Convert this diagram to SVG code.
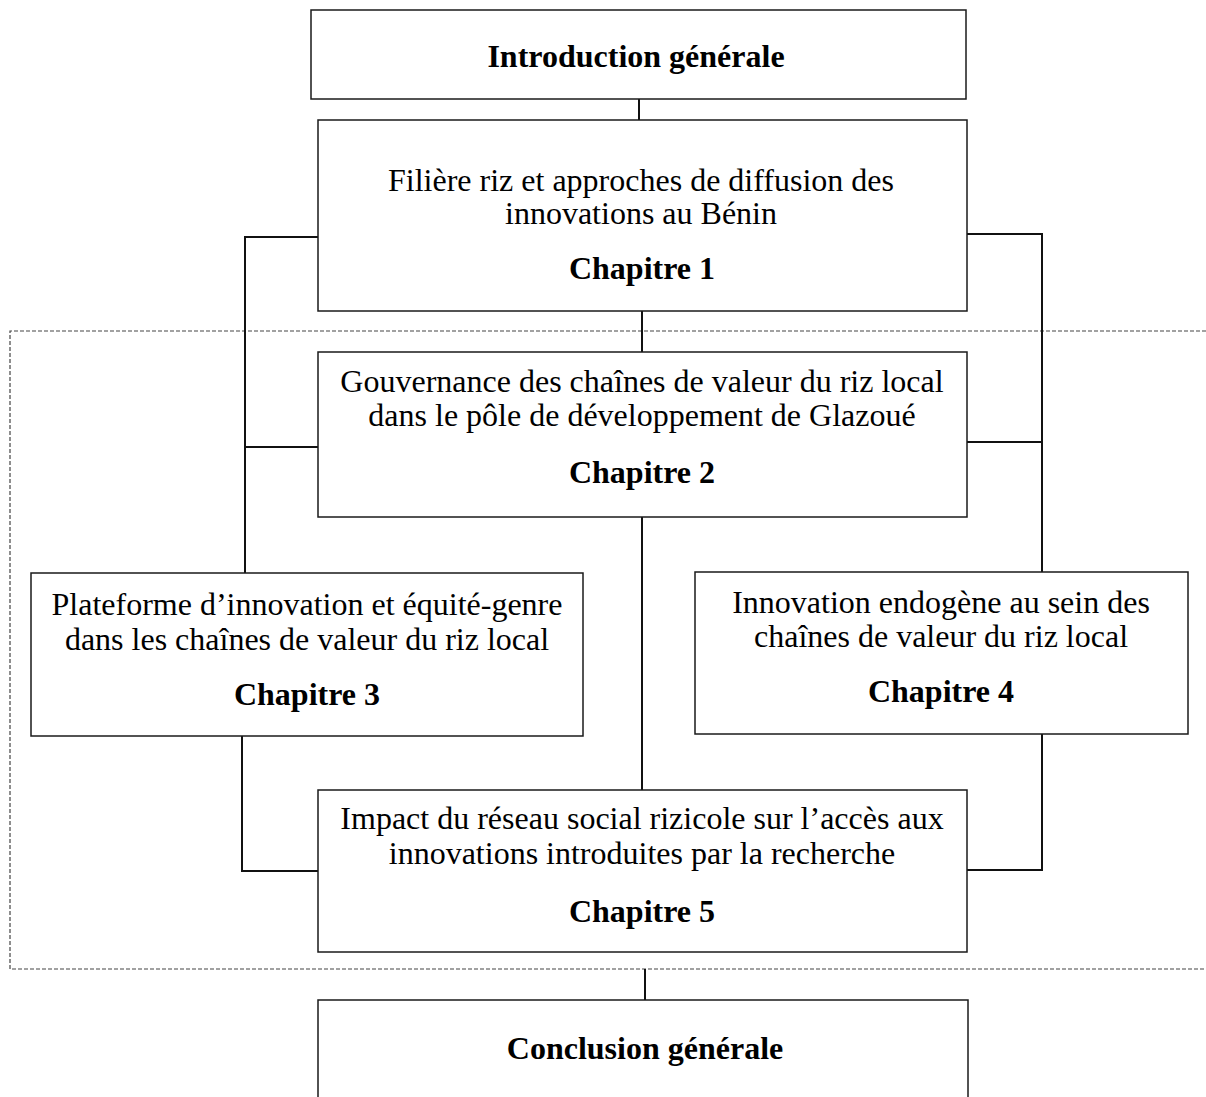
<svg xmlns="http://www.w3.org/2000/svg" width="1206" height="1097" viewBox="0 0 1206 1097">
  <style>
    .box { fill: #ffffff; stroke: #1a1a1a; stroke-width: 1.5; }
    .link { fill: none; stroke: #111111; stroke-width: 2; }
    .frame { fill: none; stroke: #444444; stroke-width: 1.2; stroke-dasharray: 4 2; }
    .t { font-family: "Liberation Serif", "Times New Roman", serif; font-size: 32px; fill: #000; text-anchor: middle; }
    .b { font-weight: bold; font-size: 32px; }
  </style>
  <rect width="1206" height="1097" fill="#ffffff"/>

  <!-- dashed frame around the core chapters -->
  <path class="frame" d="M1206,331 H10 V969 H1206"/>

  <!-- connectors -->
  <g id="connectors">
    <line class="link" x1="639" y1="99" x2="639" y2="120"/>
    <line class="link" x1="642" y1="311" x2="642" y2="352"/>
    <line class="link" x1="642" y1="517" x2="642" y2="790"/>
    <polyline class="link" points="318,237 245,237 245,573"/>
    <line class="link" x1="245" y1="447" x2="318" y2="447"/>
    <polyline class="link" points="967,234 1042,234 1042,572"/>
    <line class="link" x1="967" y1="442" x2="1042" y2="442"/>
    <polyline class="link" points="242,736 242,871 318,871"/>
    <polyline class="link" points="1042,734 1042,870 967,870"/>
    <line class="link" x1="645" y1="969" x2="645" y2="1000"/>
  </g>

  <g id="intro">
    <rect class="box" x="311" y="10" width="655" height="89"/>
    <text class="t b" x="636" y="67">Introduction générale</text>
  </g>

  <g id="chapitre1">
    <rect class="box" x="318" y="120" width="649" height="191"/>
    <text class="t" x="641" y="191">Filière riz et approches de diffusion des</text>
    <text class="t" x="641" y="224">innovations au Bénin</text>
    <text class="t b" x="642" y="279">Chapitre 1</text>
  </g>

  <g id="chapitre2">
    <rect class="box" x="318" y="352" width="649" height="165"/>
    <text class="t" x="642" y="392">Gouvernance des chaînes de valeur du riz local</text>
    <text class="t" x="642" y="426">dans le pôle de développement de Glazoué</text>
    <text class="t b" x="642" y="483">Chapitre 2</text>
  </g>

  <g id="chapitre3">
    <rect class="box" x="31" y="573" width="552" height="163"/>
    <text class="t" x="307" y="615">Plateforme d’innovation et équité-genre</text>
    <text class="t" x="307" y="650">dans les chaînes de valeur du riz local</text>
    <text class="t b" x="307" y="705">Chapitre 3</text>
  </g>

  <g id="chapitre4">
    <rect class="box" x="695" y="572" width="493" height="162"/>
    <text class="t" x="941" y="613">Innovation endogène au sein des</text>
    <text class="t" x="941" y="647">chaînes de valeur du riz local</text>
    <text class="t b" x="941" y="702">Chapitre 4</text>
  </g>

  <g id="chapitre5">
    <rect class="box" x="318" y="790" width="649" height="162"/>
    <text class="t" x="642" y="829">Impact du réseau social rizicole sur l’accès aux</text>
    <text class="t" x="642" y="864">innovations introduites par la recherche</text>
    <text class="t b" x="642" y="922">Chapitre 5</text>
  </g>

  <g id="conclusion">
    <rect class="box" x="318" y="1000" width="650" height="110"/>
    <text class="t b" x="645" y="1059">Conclusion générale</text>
  </g>
</svg>
